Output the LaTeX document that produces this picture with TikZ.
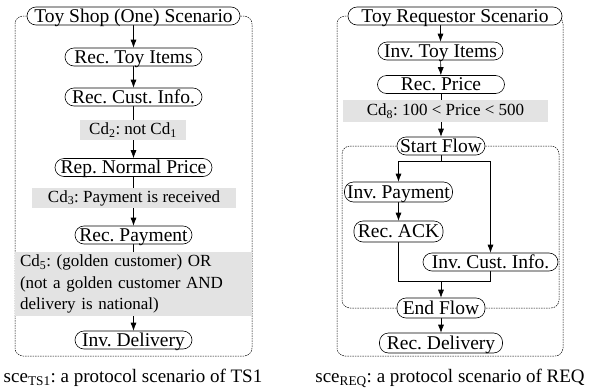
\documentclass[tikz,border=0pt]{standalone}
\usepackage{fontspec}
\setmainfont{Liberation Serif}
\usetikzlibrary{arrows.meta,backgrounds}
\frenchspacing
\begin{document}
\begin{tikzpicture}[x=1pt,y=-1pt,
    act/.style={rectangle,rounded corners=9pt,draw,fill=white,line width=0.6pt,inner xsep=0pt,inner ysep=0pt,text height=15pt,text depth=3pt,minimum height=18pt,font=\fontsize{19.5}{21}\selectfont},
    cond/.style={fill=gray!22,inner sep=0pt,minimum height=20pt,font=\fontsize{17}{20}\selectfont},
    frame/.style={dash pattern=on 1.5pt off 1pt,line width=0.5pt,rounded corners=8pt},
    flow/.style={line width=0.6pt,-{Latex[length=8pt,width=6pt]}},
    link/.style={line width=0.6pt}]
\useasboundingbox (0,0) rectangle (598,389);
%toy shop
        \node[act,minimum width=213pt] (ts0) at (133.5,16) {Toy Shop (One) Scenario};
        \node[act,minimum width=137pt] (ts1) at (133.5,57) {Rec. Toy Items};
        \node[act,minimum width=137pt] (ts2) at (133.5,97) {Rec. Cust. Info.};
        \node[cond,minimum width=106pt] (c2) at (133,130) {Cd\textsubscript{2}: not Cd\textsubscript{1}};
        \node[act,minimum width=157pt] (ts3) at (133.5,167.5) {Rep. Normal Price};
        \node[cond,minimum width=204pt] (c3) at (134,198) {Cd\textsubscript{3}: Payment is received};
        \node[act,minimum width=117pt] (ts4) at (133.5,235) {Rec. Payment};
        \node[cond,minimum height=64pt,text width=227pt,inner xsep=5pt,align=left,font=\fontsize{17}{21.5}\selectfont] (c5) at (133.5,284) {Cd\textsubscript{5}: (golden customer) OR\\(not a golden customer AND\\delivery is national)};
        \node[act,minimum width=117pt] (ts5) at (133.5,340) {Inv. Delivery};
        \node[font=\fontsize{19}{21}\selectfont] (cap1) at (133,378) {sce\textsubscript{TS1}: a protocol scenario of TS1};
        \begin{scope}[on background layer]
        \draw [frame] (ts0.east) -- (252,16) -- (252,356) -- (15,356) -- (15,16) -- (ts0.west);
        \draw [flow] (ts0) -- (ts1);
        \draw [flow] (ts1) -- (ts2);
        \draw [flow] (ts2) -- (ts3);
        \draw [flow] (ts3) -- (ts4);
        \draw [flow] (ts4) -- (ts5);
        \end{scope}

%toy requestor
        \node[act,minimum width=214pt] (rq0) at (455,16) {Toy Requestor Scenario};
        \node[act,minimum width=125pt] (rq1) at (440.5,51) {Inv. Toy Items};
        \node[act,minimum width=127pt] (rq2) at (441,84.5) {Rec. Price};
        \node[cond,minimum width=205pt,minimum height=22pt] (c8) at (445.5,111) {Cd\textsubscript{8}: 100 < Price < 500};
        \node[act,minimum width=88pt] (rq3) at (441,146) {Start Flow};
        \node[act,minimum width=108pt,minimum height=20pt] (rq4) at (398.5,192) {Inv. Payment};
        \node[act,minimum width=89pt,minimum height=21pt] (rq5) at (398.5,231.5) {Rec. ACK};
        \node[act,minimum width=135pt] (rq6) at (490.5,262) {Inv. Cust. Info.};
        \node[act,minimum width=88pt,minimum height=20pt] (rq7) at (441,308) {End Flow};
        \node[act,minimum width=123pt,minimum height=20pt] (rq8) at (441,343) {Rec. Delivery};
        \node[font=\fontsize{19}{21}\selectfont] (cap2) at (450,378) {sce\textsubscript{REQ}: a protocol scenario of REQ};
        \coordinate (fork) at (441,161);
        \coordinate (join) at (441,281);
        \begin{scope}[on background layer]
        \draw [frame] (rq0.east) -- (563,16) -- (563,356) -- (337,356) -- (337,16) -- (rq0.west);
        \draw [frame] (rq3.east) -- (559,146) -- (559,308) -- (rq7.east);
        \draw [frame] (rq3.west) -- (342,146) -- (342,308) -- (rq7.west);
        \draw [flow] (rq0.south -| rq1) -- (rq1);
        \draw [flow] (rq1) -- (rq2);
        \draw [flow] (rq2) -- (rq3);
        \draw [link] (rq3) -- (fork);
        \draw [flow] (fork) -| (rq4);
        \draw [flow] (fork) -| (rq6);
        \draw [flow] (rq4) -- (rq5);
        \draw [link] (rq5) |- (join);
        \draw [link] (rq6) |- (join);
        \draw [flow] (join) -- (rq7);
        \draw [flow] (rq7) -- (rq8);
        \end{scope}
\end{tikzpicture}
\end{document}
